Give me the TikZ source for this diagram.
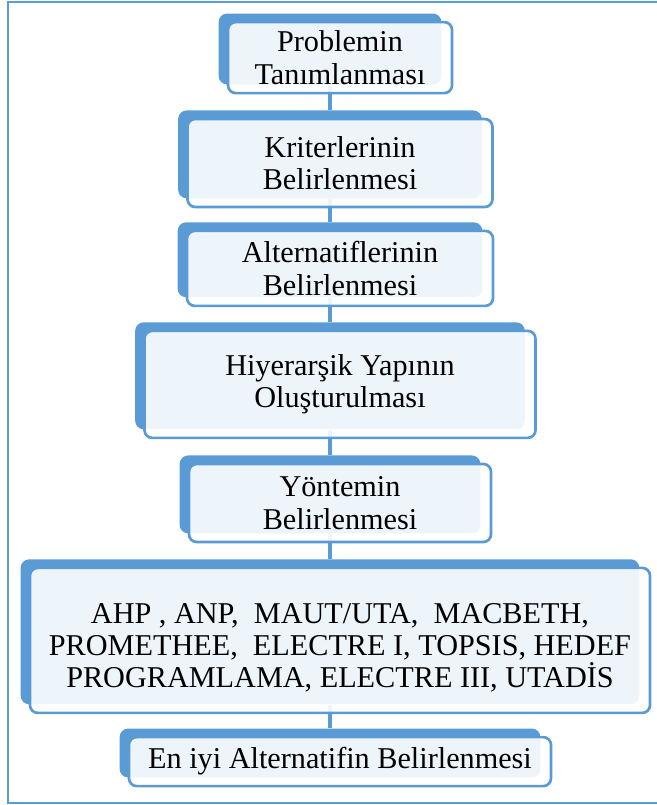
\documentclass[tikz,border=0pt]{standalone}
\usepackage{fontspec}
\setmainfont{Liberation Serif}
\usepackage{tikz}
\usetikzlibrary{positioning, calc, fit, backgrounds}
\definecolor{smartblue}{HTML}{5B9BD5}

\begin{document}
\begin{tikzpicture}[
    front/.style={draw=smartblue, line width=1.9pt, fill=white, fill opacity=0.9, text opacity=1,
                  rounded corners=5.5pt, align=center, inner sep=0pt,
                  font=\fontsize{21.5}{23}\selectfont},
    back/.style={fill=smartblue, rounded corners=6pt, inner sep=0pt},
    link/.style={draw=smartblue, line width=2.4pt},
    frame/.style={draw=smartblue, line width=1.6pt},
]
\useasboundingbox (0,0) rectangle (16.4,-20.125);

% === Outer frame ===
\draw[frame] (0.2,-0.05) rectangle (16.8,-20.075);

% === Steps ===
\node[front, minimum width=5.6cm,   minimum height=1.775cm] (b1) at (8.5,-1.44)  {Problemin\\Tanımlanması};
\node[front, minimum width=7.625cm, minimum height=2.2cm]   (b2) at (8.5,-4.075) {Kriterlerinin\\Belirlenmesi};
\node[front, minimum width=7.65cm,  minimum height=1.875cm] (b3) at (8.5,-6.71)  {Alternatiflerinin\\Belirlenmesi};
\node[front, minimum width=9.775cm, minimum height=2.675cm] (b4) at (8.5,-9.61)  {Hiyerarşik Yapının\\Oluşturulması};
\node[front, minimum width=7.55cm,  minimum height=1.95cm]  (b5) at (8.5,-12.575) {Yöntemin\\Belirlenmesi};
\node[front, minimum width=15.5cm,  minimum height=3.625cm, text height=2.45cm, text depth=0.08cm] (b6) at (8.5,-16.01)
    {AHP , ANP,\ \ MAUT/UTA,\ \ MACBETH,\\PROMETHEE,\ \ ELECTRE I, TOPSIS, HEDEF\\PROGRAMLAMA, ELECTRE III, UTADİS};
\node[front, minimum width=10.55cm, minimum height=1.225cm] (b7) at (8.5,-19.04) {En iyi Alternatifin Belirlenmesi};

% back tabs and links
\begin{scope}[on background layer]
\node[back, fit={($(b1.north west)+(-0.2,0.18)$) ($(b1.south east)+(-0.3,0.25)$)}] (k1) {};
\node[back, fit={($(b2.north west)+(-0.2,0.18)$) ($(b2.south east)+(-0.3,0.25)$)}] (k2) {};
\node[back, fit={($(b3.north west)+(-0.2,0.18)$) ($(b3.south east)+(-0.3,0.25)$)}] (k3) {};
\node[back, fit={($(b4.north west)+(-0.2,0.18)$) ($(b4.south east)+(-0.3,0.25)$)}] (k4) {};
\node[back, fit={($(b5.north west)+(-0.2,0.18)$) ($(b5.south east)+(-0.3,0.25)$)}] (k5) {};
\node[back, fit={($(b6.north west)+(-0.2,0.18)$) ($(b6.south east)+(-0.3,0.25)$)}] (k6) {};
\node[back, fit={($(b7.north west)+(-0.2,0.18)$) ($(b7.south east)+(-0.3,0.25)$)}] (k7) {};
\draw[link] (k1) -- (k2);
\draw[link] (k2) -- (k3);
\draw[link] (k3) -- (k4);
\draw[link] (k4) -- (k5);
\draw[link] (k5) -- (k6);
\draw[link] (k6) -- (k7);
\end{scope}

\end{tikzpicture}
\end{document}
